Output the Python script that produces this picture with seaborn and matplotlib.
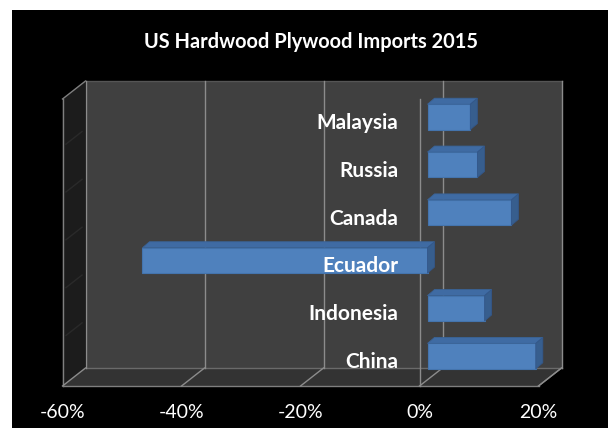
import matplotlib
matplotlib.use("Agg")
import matplotlib.pyplot as plt
import seaborn as sns
from matplotlib.patches import Polygon, Rectangle
from matplotlib.lines import Line2D
from matplotlib.transforms import IdentityTransform, offset_copy

# ---- data ----
countries = ["Malaysia", "Russia", "Canada", "Ecuador", "Indonesia", "China"]
values = [7.2, 8.4, 14.1, -47.9, 9.6, 18.2]
xticks = [-60, -40, -20, 0, 20]
xtick_labels = ["-60%", "-40%", "-20%", "0%", "20%"]
title = "US Hardwood Plywood Imports 2015"

plt.rcParams["font.family"] = ["Lato", "DejaVu Sans"]

W, H = 608, 428
fig = plt.figure(figsize=(W / 100, H / 100), dpi=100, facecolor="white")
fig.add_artist(Rectangle((12 / W, 0), (W - 12) / W, (H - 10) / H,
                         transform=fig.transFigure, facecolor="black",
                         edgecolor="none", zorder=-10))

# axes = plane in which the bar fronts sit
ax = fig.add_axes([70.5 / W, (H - 380) / H, 476 / W, 287 / H])
sns.barplot(x=values, y=countries, orient="h", color="#4f81bd", saturation=1,
            width=0.53, ax=ax, edgecolor="#4474ad", linewidth=0.8)
ax.set_xlim(-60, 20)
ax.set_ylim(5.5, -0.5)
ax.axis("off")

FX, FY = -8, -6
BX, BY = 15, 12


def P(x, y, t):
    px, py = ax.transData.transform((x, y))
    return (px + FX + (BX - FX) * t, py + FY + (BY - FY) * t)


ident = IdentityTransform()


def poly(pts, fc, ec="none", lw=0.0, z=1):
    ax.add_patch(Polygon(pts, closed=True, facecolor=fc, edgecolor=ec, linewidth=lw,
                         transform=ident, clip_on=False, zorder=z))


def line(p1, p2, c="#8c8c8c", lw=1.0, z=2):
    ax.add_line(Line2D([p1[0], p2[0]], [p1[1], p2[1]], color=c, linewidth=lw,
                       transform=ident, clip_on=False, zorder=z))


top, bot = -0.5, 5.5
# back wall
poly([P(-60, top, 1), P(20, top, 1), P(20, bot, 1), P(-60, bot, 1)], "#404040", z=0.5)
# floor
poly([P(-60, bot, 0), P(20, bot, 0), P(20, bot, 1), P(-60, bot, 1)], "#333333", z=0.6)
# left wall
poly([P(-60, top, 0), P(-60, top, 1), P(-60, bot, 1), P(-60, bot, 0)], "#1c1c1c", z=0.7)
for k in range(1, 6):
    line(P(-60, k - 0.5, 0.15), P(-60, k - 0.5, 0.85), c="#2a2a2a", lw=1.0, z=0.8)
line(P(-60, top, 0), P(-60, bot, 0), c="#7f7f7f", z=0.9)
line(P(-60, top, 0), P(-60, top, 1), c="#7f7f7f", z=0.9)
line(P(-60, bot, 0), P(20, bot, 0), c="#7f7f7f", z=0.9)
line(P(20, bot, 0), P(20, bot, 1), c="#7f7f7f", z=0.9)
line(P(-60, bot, 1), P(20, bot, 1), c="#6a6a6a", z=0.9)
line(P(-60, top, 1), P(20, top, 1), c="#555555", z=0.9)
# gridlines on back wall + floor
for v in xticks:
    line(P(v, top, 1), P(v, bot, 1), c="#8c8c8c", z=1)
    line(P(v, bot, 1), P(v, bot, 0), c="#8c8c8c", z=1)
# vertical axis line at 0 on front plane
line(P(0, top, 0), P(0, bot, 0), c="#8c8c8c", z=1.5)

# 3D faces of bars
DX, DY = 7, 6
for p in ax.patches[:]:
    if not hasattr(p, "get_x") or isinstance(p, Polygon):
        continue
    x0, y0 = p.get_x(), p.get_y()
    x1, y1 = x0 + p.get_width(), y0 + p.get_height()
    (ax0, ay0) = ax.transData.transform((min(x0, x1), max(y0, y1)))
    (ax1, ay1) = ax.transData.transform((max(x0, x1), min(y0, y1)))
    xl, xr = ax0, ax1
    yb, yt = ay0, ay1
    p.set_zorder(5)
    poly([(xl, yt), (xr, yt), (xr + DX, yt + DY), (xl + DX, yt + DY)], "#3f6ba3",
         ec="#3a6397", lw=0.6, z=5)
    poly([(xr, yb), (xr, yt), (xr + DX, yt + DY), (xr + DX, yb + DY)], "#375e8e",
         ec="#33578a", lw=0.6, z=5)

# category labels (front plane, next to 0 axis)
lab_tr = offset_copy(ax.transData, fig=fig, x=FX - 21, y=FY, units="dots")
for i, c in enumerate(countries):
    ax.text(0, i, c, transform=lab_tr, ha="right", va="center", color="white",
            fontsize=15, fontweight="bold", zorder=10, clip_on=False)

# x tick labels
tick_tr = offset_copy(ax.transData, fig=fig, x=FX, y=FY - 26, units="dots")
for v, lab in zip(xticks, xtick_labels):
    ax.text(v, bot, lab, transform=tick_tr, ha="center", va="center", color="white",
            fontsize=14, zorder=10, clip_on=False)

fig.text(311 / W, 1 - 42 / H, title, ha="center", va="center", color="white",
         fontsize=14.4, fontweight="bold")

fig.savefig("out.png", dpi=100, facecolor="white")
